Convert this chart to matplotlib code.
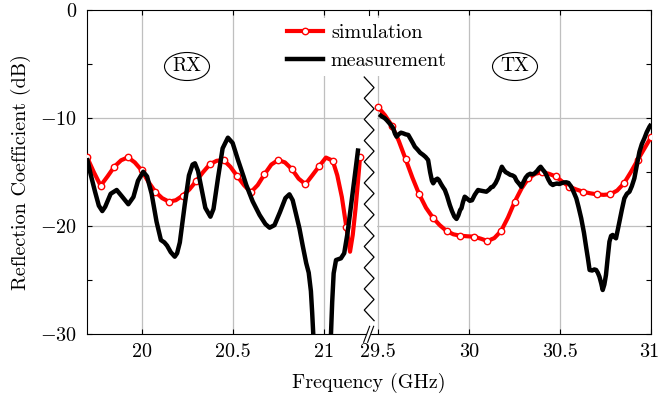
import numpy as np
import matplotlib
matplotlib.use("Agg")
import matplotlib.pyplot as plt
import matplotlib.transforms as mtransforms
from matplotlib.patches import Ellipse, Rectangle, Polygon
from matplotlib.lines import Line2D

plt.rcParams["font.family"] = "cmr10"
plt.rcParams["mathtext.fontset"] = "cm"
plt.rcParams["axes.unicode_minus"] = False

# ---------------- data ----------------
# RX band (GHz / dB)
rx_sim_freq = [19.7, 19.7375, 19.775, 19.8125, 19.85, 19.8875, 19.925, 19.9625,
               20.0, 20.0375, 20.075, 20.1125, 20.15, 20.1875, 20.225, 20.2625,
               20.3, 20.3375, 20.375, 20.4125, 20.45, 20.4875, 20.525, 20.5625,
               20.6, 20.6375, 20.675, 20.7125, 20.75, 20.7875, 20.825, 20.8625,
               20.9, 20.9375, 20.975, 21.0125, 21.05, 21.075, 21.1, 21.125,
               21.145, 21.16, 21.175, 21.188, 21.2]
rx_sim_db = [-13.6, -15.0, -16.25, -15.4, -14.5, -13.9, -13.63, -14.1,
             -14.83, -15.9, -16.81, -17.4, -17.73, -17.6, -17.18, -16.6,
             -15.82, -15.0, -14.27, -13.95, -13.88, -14.5, -15.36, -16.2,
             -16.86, -16.2, -15.2, -14.3, -13.88, -14.1, -14.71, -15.6,
             -16.12, -15.3, -14.46, -13.65, -13.94, -15.3, -17.3, -20.1,
             -22.36, -20.8, -18.4, -16.0, -13.6]

rx_meas_freq = [19.70, 19.72, 19.744, 19.765, 19.784, 19.80, 19.83, 19.863,
                19.89, 19.927, 19.955, 19.98, 20.009, 20.03, 20.055, 20.082,
                20.106, 20.125, 20.14, 20.16, 20.182, 20.195, 20.21, 20.237,
                20.26, 20.28, 20.293, 20.31, 20.33, 20.35, 20.378, 20.395,
                20.42, 20.445, 20.474, 20.50, 20.53, 20.56, 20.575, 20.61,
                20.648, 20.68, 20.703, 20.73, 20.76, 20.79, 20.812, 20.83,
                20.85, 20.867, 20.885, 20.904, 20.918, 20.93, 20.937, 20.946,
                21.038, 21.047, 21.055, 21.068, 21.095, 21.113, 21.131, 21.159,
                21.19]
rx_meas_db = [-13.7, -15.2, -16.8, -18.1, -18.6, -18.2, -17.0, -16.65,
              -17.2, -17.97, -17.3, -15.8, -14.96, -15.4, -17.0, -19.58,
              -21.28, -21.5, -21.8, -22.4, -22.82, -22.5, -21.5, -18.0,
              -15.3, -14.3, -14.18, -14.9, -16.6, -18.3, -19.12, -18.4,
              -15.5, -12.8, -11.81, -12.3, -13.9, -15.4, -16.19, -17.7,
              -18.96, -19.8, -20.14, -19.9, -18.7, -17.4, -17.05, -17.6,
              -19.0, -20.2, -21.8, -23.4, -24.3, -26.0, -28.0, -31.0,
              -31.0, -27.0, -24.36, -23.13, -22.97, -22.5, -20.66, -16.96,
              -12.8]

# TX band (GHz / dB)
tx_sim_freq = [29.5, 29.5375, 29.575, 29.6125, 29.65, 29.6875, 29.725, 29.7625,
               29.8, 29.8375, 29.875, 29.9125, 29.95, 29.9875, 30.025, 30.0625,
               30.1, 30.1375, 30.175, 30.2125, 30.25, 30.2875, 30.325, 30.3625,
               30.4, 30.4375, 30.475, 30.5125, 30.55, 30.5875, 30.625, 30.6625,
               30.7, 30.7375, 30.775, 30.8125, 30.85, 30.8875, 30.925, 30.9625,
               31.0]
tx_sim_db = [-9.0, -9.75, -10.7, -12.1, -13.78, -15.5, -17.05, -18.3,
             -19.21, -19.9, -20.44, -20.75, -20.88, -20.93, -20.97, -21.15,
             -21.37, -21.1, -20.44, -19.2, -17.73, -16.5, -15.57, -15.15,
             -15.01, -15.15, -15.4, -15.9, -16.35, -16.6, -16.81, -16.95,
             -17.05, -17.1, -17.05, -16.7, -16.03, -15.0, -13.88, -12.8,
             -11.72]

tx_meas_freq = [29.505, 29.52, 29.535, 29.546, 29.56, 29.572, 29.582, 29.592,
                29.601, 29.612, 29.625, 29.637, 29.65, 29.665, 29.68, 29.69,
                29.701, 29.715, 29.73, 29.747, 29.76, 29.774, 29.785, 29.795,
                29.802, 29.815, 29.825, 29.833, 29.845, 29.856, 29.866, 29.878,
                29.893, 29.905, 29.918, 29.93, 29.94, 29.95, 29.957, 29.965,
                29.975, 29.985, 29.995, 30.003, 30.015, 30.03, 30.048, 30.06,
                30.075, 30.094, 30.11, 30.12, 30.13, 30.145, 30.157, 30.168,
                30.179, 30.19, 30.2, 30.212, 30.225, 30.237, 30.249, 30.26,
                30.275, 30.286, 30.298, 30.31, 30.322, 30.335, 30.347, 30.359,
                30.372, 30.383, 30.392, 30.405, 30.415, 30.423, 30.435, 30.447,
                30.459, 30.47, 30.482, 30.495, 30.505, 30.52, 30.533, 30.545,
                30.56, 30.575, 30.588, 30.6, 30.615, 30.63, 30.643, 30.652,
                30.661, 30.675, 30.687, 30.697, 30.706, 30.715, 30.725, 30.733,
                30.742, 30.751, 30.76, 30.77, 30.779, 30.788, 30.797, 30.806,
                30.815, 30.825, 30.838, 30.852, 30.866, 30.88, 30.893, 30.907,
                30.92, 30.935, 30.948, 30.962, 30.975, 30.99, 31.0]
tx_meas_db = [-9.65, -9.85, -10.0, -10.18, -10.45, -10.7, -10.94, -11.45,
              -11.72, -11.5, -11.35, -11.41, -11.5, -11.56, -12.0, -12.3,
              -12.65, -12.9, -13.2, -13.41, -13.6, -13.88, -15.0, -15.8,
              -16.03, -15.7, -15.6, -15.73, -16.1, -16.4, -16.65, -17.2,
              -18.04, -18.6, -19.1, -19.33, -19.0, -18.5, -18.34, -17.8,
              -17.27, -17.4, -17.55, -17.65, -17.6, -17.1, -16.65, -16.7,
              -16.75, -16.81, -16.6, -16.4, -16.35, -16.0, -15.57, -15.0,
              -14.5, -14.8, -15.0, -15.11, -15.25, -15.3, -15.42, -15.8,
              -16.1, -16.35, -15.9, -15.5, -15.26, -15.15, -15.2, -15.11,
              -14.9, -14.65, -14.5, -14.8, -15.0, -15.26, -15.7, -16.05,
              -16.19, -16.1, -16.05, -16.1, -16.03, -15.95, -15.94, -16.0,
              -16.35, -16.9, -17.42, -18.2, -19.27, -20.6, -22.04, -23.0,
              -24.05, -24.1, -24.0, -24.05, -24.3, -24.67, -25.3, -25.9,
              -25.4, -24.51, -23.0, -21.43, -20.9, -20.81, -21.0, -21.12,
              -20.4, -19.58, -18.5, -17.42, -17.0, -16.81, -16.3, -15.57,
              -14.4, -13.11, -12.4, -11.87, -11.3, -10.8, -10.55]

rx_ticks = [20.0, 20.5, 21.0]
tx_ticks = [29.5, 30.0, 30.5, 31.0]
rx_tick_labels = ["20", "20.5", "21"]
tx_tick_labels = ["29.5", "30", "30.5", "31"]
y_ticks = [-30, -20, -10, 0]
y_tick_labels = ["$-30$", "$-20$", "$-10$", "$0$"]

# ---------------- broken frequency axis ----------------
GAP = 8.2            # GHz removed between the two bands
RX_MIN, TX_MAX = 19.70, 31.0
BREAK = 21.25        # position of the break on the drawn axis


def to_axis(freq, band):
    f = np.asarray(freq, dtype=float)
    return f - GAP if band == "tx" else f


def marker_idx(freq, start, step):
    f = np.asarray(freq)
    k = (f - start) / step
    return np.where(np.abs(k - np.round(k)) < 0.02)[0]


FS = 14.5
RED = "#ff0000"

fig = plt.figure(figsize=(6.59, 4.01), dpi=100)
ax = fig.add_axes([87 / 659, 1 - 334.3 / 401, (651.3 - 87) / 659, (334.3 - 10) / 401])

ax.set_xlim(RX_MIN, TX_MAX - GAP)
ax.set_ylim(-30, 0)

# grid
for xv in list(to_axis(rx_ticks, "rx")) + list(to_axis(tx_ticks, "tx")):
    ax.axvline(xv, color="0.75", lw=0.9, zorder=0.5)
for yv in (-10, -20):
    ax.axhline(yv, color="0.75", lw=0.9, zorder=0.5)

# blank band behind the break
ax.add_patch(Rectangle((BREAK - 0.028, -30), 0.073, 24.5, facecolor="white",
                       edgecolor="none", zorder=0.8))

# simulation (red, hollow markers) then measurement (black)
sim_kw = dict(color=RED, lw=3.0, solid_capstyle="round", solid_joinstyle="round", zorder=3)
mk_kw = dict(ls="none", marker="o", ms=4.6, mfc="white", mec=RED, mew=1.0, zorder=3.2)
meas_kw = dict(color="black", lw=3.2, solid_capstyle="butt", solid_joinstyle="round", zorder=4)

for freq, db, band, f0 in ((rx_sim_freq, rx_sim_db, "rx", 19.7),
                           (tx_sim_freq, tx_sim_db, "tx", 29.5)):
    xs = to_axis(freq, band)
    ys = np.asarray(db)
    ax.plot(xs, ys, **sim_kw)
    idx = marker_idx(freq, f0, 0.075)
    ax.plot(xs[idx], ys[idx], **mk_kw)

ax.plot(to_axis(rx_meas_freq, "rx"), rx_meas_db, **meas_kw)
ax.plot(to_axis(tx_meas_freq, "tx"), tx_meas_db, **meas_kw)

# zigzag break line
zz_y = np.arange(-6.2, -29.4, -0.98)
zz_x = np.where(np.arange(len(zz_y)) % 2 == 0, BREAK - 0.027, BREAK + 0.027)
ax.plot(zz_x, zz_y, color="black", lw=0.9, zorder=5, solid_joinstyle="miter")

# "//" marks on the bottom axis
bt = mtransforms.blended_transform_factory(ax.transData, ax.transAxes)
px = 1.0 / 182.03
dy = 1.0 / 324.3
ax.add_patch(Polygon([(BREAK - 5 * px, -8 * dy), (BREAK + 1 * px, 8 * dy),
                      (BREAK + 5 * px, 8 * dy), (BREAK - 1 * px, -8 * dy)],
                     closed=True, facecolor="white", edgecolor="none",
                     transform=bt, clip_on=False, zorder=6))
for off in (-2.5 * px, 1.5 * px):
    ax.plot([BREAK + off - 3 * px, BREAK + off + 3 * px], [-8 * dy, 8 * dy],
            color="black", lw=0.8, transform=bt, clip_on=False, zorder=7)
ax.plot([BREAK, BREAK], [1, 1 - 5 * dy], color="black", lw=0.8,
        transform=bt, clip_on=False, zorder=7)

# ticks
xt = list(to_axis(rx_ticks, "rx")) + list(to_axis(tx_ticks, "tx"))
ax.set_xticks(xt)
ax.set_xticklabels(rx_tick_labels + tx_tick_labels, fontsize=FS)
ax.set_yticks(y_ticks)
ax.set_yticklabels(y_tick_labels, fontsize=FS)
ax.set_yticks([-25, -15, -5], minor=True)
ax.tick_params(which="both", direction="in", top=True, right=True,
               length=3.6, width=0.8, color="black")
ax.tick_params(axis="x", pad=6)
ax.tick_params(axis="y", pad=7)
for s in ax.spines.values():
    s.set_linewidth(0.8)
    s.set_color("black")

# keep the last frequency label inside the canvas
last = ax.get_xticklabels()[-1]
last.set_transform(last.get_transform() +
                   mtransforms.ScaledTranslation(-2.5 / 100, 0, fig.dpi_scale_trans))

ax.set_xlabel("Frequency (GHz)", fontsize=FS, labelpad=9)
ax.set_ylabel("Reflection Coefficient (dB)", fontsize=FS, labelpad=7)

# band labels in ellipses
ew, eh = 45 / 564.3, 28 / 324.3
for label, xc in (("RX", (187 - 87) / 564.3), ("TX", (515 - 87) / 564.3)):
    yc = (334.3 - 66.5) / 324.3
    ax.add_patch(Ellipse((xc, yc), ew, eh, transform=ax.transAxes,
                         facecolor="white", edgecolor="black", lw=0.8, zorder=6))
    ax.text(xc, yc, label, transform=ax.transAxes, ha="center", va="center",
            fontsize=FS - 0.5, zorder=7)

# legend
handles = [Line2D([], [], color=RED, lw=3.0, marker="o", ms=4.6, mfc="white",
                  mec=RED, mew=1.0),
           Line2D([], [], color="black", lw=3.2)]
leg = ax.legend(handles, ["simulation", "measurement"], loc="upper left",
                bbox_to_anchor=((281 - 87) / 564.3, (334.3 - 18) / 324.3),
                fontsize=FS, frameon=True, fancybox=False, framealpha=1,
                facecolor="white", edgecolor="none", borderaxespad=0,
                borderpad=0.3, handlelength=1.8, handletextpad=0.38,
                labelspacing=0.5, numpoints=1)
leg.set_zorder(8)

fig.savefig("out.png", dpi=100)
